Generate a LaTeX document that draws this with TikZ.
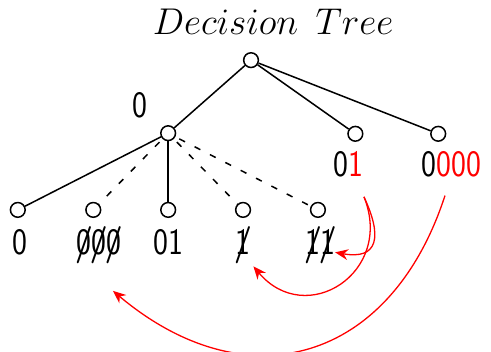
\documentclass[tikz,border=0pt]{standalone}
\usetikzlibrary{arrows.meta}
\newcommand{\nrw}[1]{\scalebox{0.85}[1]{#1}}
\newcommand{\crossed}[1]{\ooalign{#1\cr\hidewidth{\boldmath$/$}\hidewidth\cr}}

\begin{document}
\begin{tikzpicture}[line width=0.7pt,>={Stealth[length=6pt,width=5pt]},
    vtx/.style={circle,draw,fill=white,minimum size=0.24cm,inner sep=0pt},
    lbl/.style={font=\LARGE\sffamily,anchor=base,inner sep=1pt},
    jump/.style={red,->,line width=0.6pt}]
  \useasboundingbox (0,0) rectangle (8.0,5.72);
  \node[anchor=base,font=\LARGE] (title) at (4.45,5.15) {$Decision\ \,Tree$};
  % tree
  \node[vtx] (R) at (4.09,4.74) {};
  \node[vtx] (A) at (2.74,3.55) {};
  \node[vtx] (B) at (5.79,3.54) {};
  \node[vtx] (C) at (7.14,3.54) {};
  \node[vtx] (L1) at (0.29,2.30) {};
  \node[vtx] (L2) at (1.52,2.30) {};
  \node[vtx] (L3) at (2.74,2.30) {};
  \node[vtx] (L4) at (3.96,2.30) {};
  \node[vtx] (L5) at (5.18,2.30) {};
  \draw (R) -- (A);
  \draw (R) -- (B);
  \draw (R) -- (C);
  \draw (A) -- (L1);
  \draw (A) -- (L3);
  \draw[dash pattern=on 3pt off 5pt,dash phase=6pt] (A) -- (L2);
  \draw[dash pattern=on 3pt off 5pt,dash phase=6pt] (A) -- (L4);
  \draw[dash pattern=on 3pt off 5pt,dash phase=6pt] (A) -- (L5);
  % labels
  \node[lbl] (lA) at (2.28,3.80) {\nrw{0}};
  \node[lbl] (lB) at (5.67,2.84) {\nrw{0\textcolor{red}{1}}};
  \node[lbl] (lC) at (7.35,2.84) {\nrw{0\textcolor{red}{000}}};
  \node[lbl] (l1) at (0.33,1.58) {\nrw{0}};
  \node[lbl] (l2) at (1.61,1.58) {\nrw{\crossed{0}\crossed{0}\crossed{0}}};
  \node[lbl] (l3) at (2.74,1.58) {\nrw{01}};
  \node[lbl] (l4) at (3.96,1.58) {\nrw{\crossed{1}}};
  \node[lbl] (l5) at (5.22,1.58) {\nrw{\crossed{1}\crossed{1}}};
  % moves
  \draw[jump] ([xshift=-0.03cm,yshift=-0.27cm]lB.south east) to[out=-65,in=-10,looseness=1.8] ([xshift=-0.05cm,yshift=-0.1cm]l5.east);
  \draw[jump] ([xshift=-0.03cm,yshift=-0.27cm]lB.south east) to[out=-68,in=-50,looseness=1.6] (l4.south east);
  \draw[jump] ([xshift=-0.1cm,yshift=-0.25cm]lC.south) to[out=-108,in=-40,looseness=1.3] ([xshift=0.23cm,yshift=-0.4cm]l2.south);
\end{tikzpicture}
\end{document}
